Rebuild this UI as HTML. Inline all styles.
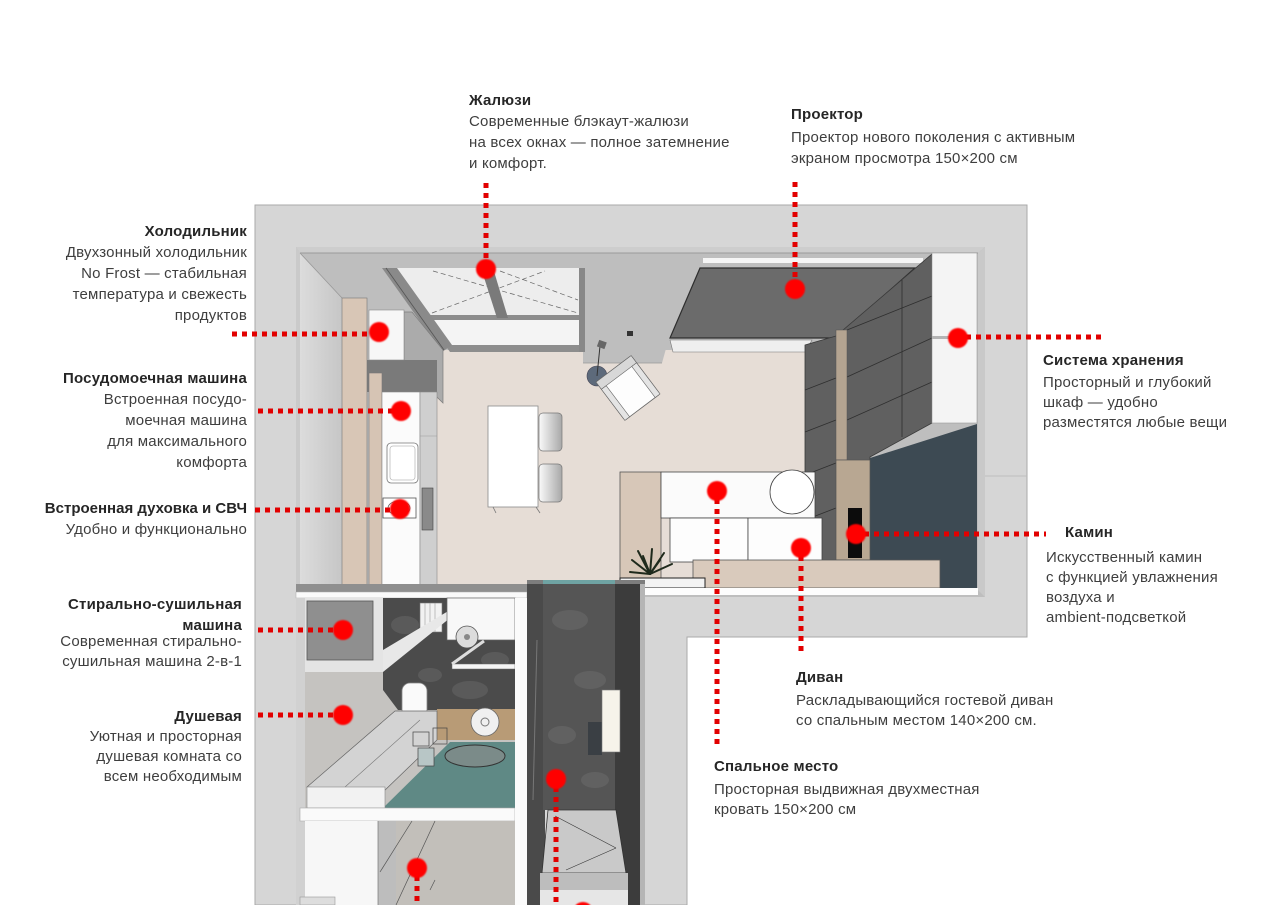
<!DOCTYPE html>
<html><head><meta charset="utf-8">
<style>
html,body{margin:0;padding:0;background:#fff;}
body{width:1280px;height:905px;position:relative;overflow:hidden;font-family:"Liberation Sans","DejaVu Sans",sans-serif;}
svg{position:absolute;left:0;top:0;}
.t{position:absolute;font-size:15px;line-height:21px;color:#3e3e3e;letter-spacing:0.2px;white-space:nowrap;}
.t b{color:#262626;}
.r{text-align:right;}
</style></head><body>
<svg width="1280" height="905" viewBox="0 0 1280 905" xmlns="http://www.w3.org/2000/svg">
<defs>
<linearGradient id="lw" x1="0" x2="1" y1="0" y2="0"><stop offset="0" stop-color="#dcdcdc"/><stop offset="1" stop-color="#c6c6c6"/></linearGradient>
<linearGradient id="ch" x1="0" x2="1" y1="0" y2="0"><stop offset="0" stop-color="#fafafa"/><stop offset="1" stop-color="#a8a8a8"/></linearGradient>
<filter id="bl" x="-50%" y="-50%" width="200%" height="200%"><feGaussianBlur stdDeviation="0.9"/></filter>
</defs>

<!-- outer wall -->
<polygon points="255,205 1027,205 1027,637 687,637 687,905 255,905" fill="#d6d6d6" stroke="#a9a9a9" stroke-width="1"/>
<line x1="985" y1="476" x2="1027" y2="476" stroke="#bdbdbd"/>

<!-- top room base (wall faces) -->
<rect x="296" y="247" width="689" height="350" fill="#bebebe"/>
<polygon points="296,247 985,247 978,253 300,253" fill="#cdcdcd"/>
<line x1="300" y1="253" x2="978" y2="253" stroke="#9a9a9a" stroke-width="1"/>
<polygon points="978,253 985,247 985,597 978,590" fill="#c9c9c9"/>
<polygon points="296,247 300,253 300,590 296,597" fill="#cacaca"/>
<polygon points="300,253 342,298 342,590 300,590" fill="url(#lw)"/>
<line x1="300" y1="253" x2="342" y2="298" stroke="#999" stroke-width="0.8"/>

<!-- floor -->
<rect x="437" y="350" width="370" height="238" fill="#e6ddd6"/>
<polygon points="583,345 667,345 662,363 583,363" fill="#bebebe"/>
<line x1="583" y1="363" x2="662" y2="363" stroke="#999" stroke-width="0.8"/>

<!-- window -->
<polygon points="393,268 583,268 583,318 428,318" fill="#ededed"/>
<line x1="433" y1="271" x2="578" y2="313" stroke="#666" stroke-width="0.7" stroke-dasharray="5 3"/>
<line x1="432" y1="313" x2="545" y2="271" stroke="#666" stroke-width="0.7" stroke-dasharray="5 3"/>
<line x1="500" y1="271" x2="578" y2="300" stroke="#666" stroke-width="0.7" stroke-dasharray="5 3"/>
<polygon points="428,318 583,318 583,345 445,345" fill="#f4f4f4"/>
<rect x="428" y="315" width="155" height="5" fill="#8c8c8c"/>
<polygon points="445,345 585,345 585,352 450,352" fill="#8d8d8d"/>
<polygon points="382,268 397,268 452,345 442,352" fill="#8a8a8a"/>
<line x1="386" y1="268" x2="444" y2="350" stroke="#555" stroke-width="0.8"/>
<polygon points="481,268 493,268 508,318 497,318" fill="#7a7a7a"/>
<rect x="579" y="268" width="6" height="84" fill="#888"/>

<!-- upper kitchen cabinet -->
<polygon points="404,312 412,312 443,350 443,403 404,365" fill="#ababab" stroke="#7d7d7d" stroke-width="0.7"/>

<!-- projector screen -->
<rect x="703" y="258" width="220" height="5" fill="#f5f5f5"/>
<polygon points="700,268 915,268 836,338 670,338" fill="#6b6b6b" stroke="#2e2e2e" stroke-width="1.2"/>
<polygon points="670,340 812,340 805,352 673,352" fill="#efefef" stroke="#777" stroke-width="0.6"/>

<!-- gray wardrobe panels -->
<polygon points="805,345 836,336 932,254 932,423 870,457 870,580 805,580" fill="#606060" stroke="#3a3a3a" stroke-width="0.8"/>
<g stroke="#2f2f2f" stroke-width="0.8">
<line x1="847" y1="330" x2="932" y2="296"/>
<line x1="847" y1="377" x2="932" y2="338"/>
<line x1="847" y1="420" x2="932" y2="382"/>
<line x1="902" y1="280" x2="902" y2="437"/>
<line x1="805" y1="390" x2="836" y2="378"/>
<line x1="805" y1="432" x2="836" y2="420"/>
<line x1="805" y1="475" x2="836" y2="463"/>
<line x1="805" y1="520" x2="836" y2="508"/>
</g>
<rect x="836" y="330" width="11" height="130" fill="#b4a491" stroke="#555" stroke-width="0.5"/>
<rect x="932" y="253" width="45" height="170" fill="#f4f4f4" stroke="#999" stroke-width="0.6"/>
<rect x="932" y="336" width="26" height="3" fill="#b4b4b4"/>
<polygon points="870,458 977,424 977,590 870,590" fill="#3d4a53"/>
<rect x="836" y="460" width="34" height="100" fill="#b8a792" stroke="#555" stroke-width="0.7"/>
<rect x="848" y="508" width="14" height="50" fill="#0c0c0c"/>

<!-- kitchen -->
<rect x="367" y="360" width="70" height="32" fill="#7a7a7a"/>
<rect x="369" y="310" width="35" height="50" fill="#f7f7f7" stroke="#888" stroke-width="0.6"/>
<rect x="342" y="298" width="25" height="290" fill="#d8c6b6" stroke="#777" stroke-width="0.6"/>
<rect x="369" y="373" width="13" height="215" fill="#d6c4b4" stroke="#777" stroke-width="0.6"/>
<rect x="382" y="392" width="38" height="194" fill="#fbfbfb" stroke="#888" stroke-width="0.6"/>
<rect x="420" y="392" width="17" height="194" fill="#cfcfcf" stroke="#888" stroke-width="0.6"/>
<line x1="420" y1="436" x2="437" y2="436" stroke="#999" stroke-width="0.6"/>
<rect x="422" y="488" width="11" height="42" fill="#8a8a8a" stroke="#444" stroke-width="0.6"/>
<rect x="387" y="443" width="31" height="40" rx="4" fill="#fff" stroke="#777" stroke-width="0.8"/>
<rect x="390" y="446" width="25" height="34" rx="3" fill="none" stroke="#bbb" stroke-width="0.8"/>
<rect x="383" y="498" width="33" height="20" fill="#fff" stroke="#555" stroke-width="0.8"/>
<ellipse cx="399" cy="508" rx="11" ry="7" fill="none" stroke="#555" stroke-width="0.8"/>

<!-- dining -->
<rect x="488" y="406" width="50" height="101" fill="#fff" stroke="#8a8a8a" stroke-width="0.8"/>
<rect x="539" y="413" width="23" height="38" rx="4" fill="url(#ch)" stroke="#777" stroke-width="0.7"/>
<rect x="539" y="464" width="23" height="38" rx="4" fill="url(#ch)" stroke="#777" stroke-width="0.7"/>
<g stroke="#777" stroke-width="0.8"><line x1="493" y1="507" x2="496" y2="513"/><line x1="536" y1="507" x2="540" y2="513"/></g>

<!-- armchair and lamp -->
<circle cx="597" cy="376" r="10" fill="#5d6a7b" stroke="#445" stroke-width="0.6"/>
<line x1="597" y1="376" x2="600" y2="346" stroke="#333" stroke-width="1"/>
<rect x="598" y="341" width="8" height="7" fill="#666" transform="rotate(20 602 344)"/>
<rect x="627" y="331" width="6" height="5" fill="#333"/>
<g transform="translate(628,388) rotate(-37)">
<rect x="-22" y="-24" width="44" height="48" rx="2" fill="#fdfdfd" stroke="#666" stroke-width="0.8"/>
<rect x="-22" y="-24" width="44" height="9" fill="#d8d8d8" stroke="#666" stroke-width="0.6"/>
<rect x="-22" y="-15" width="6" height="39" fill="#e4e4e4" stroke="#666" stroke-width="0.6"/>
<rect x="16" y="-15" width="6" height="39" fill="#e4e4e4" stroke="#666" stroke-width="0.6"/>
</g>

<!-- sofa area -->
<rect x="620" y="472" width="41" height="108" fill="#d7c7b8" stroke="#555" stroke-width="0.8"/>
<rect x="661" y="472" width="154" height="46" fill="#fbfbfb" stroke="#444" stroke-width="0.8"/>
<circle cx="792" cy="492" r="22" fill="#fff" stroke="#444" stroke-width="0.8"/>
<rect x="670" y="518" width="78" height="44" fill="#fdfdfd" stroke="#444" stroke-width="0.8"/>
<rect x="748" y="518" width="74" height="44" fill="#fdfdfd" stroke="#444" stroke-width="0.8"/>
<rect x="693" y="560" width="247" height="28" fill="#d9cabc" stroke="#555" stroke-width="0.8"/>
<rect x="620" y="578" width="85" height="10" fill="#f3f3f3" stroke="#222" stroke-width="1"/>
<g stroke="#1f2a1c" stroke-width="2" stroke-linecap="round">
<line x1="650" y1="574" x2="632" y2="560"/><line x1="650" y1="574" x2="638" y2="551"/>
<line x1="650" y1="574" x2="652" y2="549"/><line x1="650" y1="574" x2="664" y2="553"/>
<line x1="650" y1="574" x2="672" y2="564"/><line x1="650" y1="574" x2="630" y2="572"/>
<line x1="650" y1="574" x2="643" y2="556"/><line x1="650" y1="574" x2="660" y2="560"/>
</g>

<!-- bottom edges of top room -->
<rect x="645" y="588" width="333" height="7" fill="#fdfdfd"/>
<rect x="296" y="584" width="231" height="8" fill="#8f8f8f"/>
<rect x="296" y="592" width="231" height="6" fill="#fafafa" stroke="#aaa" stroke-width="0.5"/>

<!-- bathroom -->
<rect x="296" y="598" width="219" height="212" fill="#c5c3c0"/>
<rect x="296" y="598" width="9" height="307" fill="#d1d1d1"/>
<polygon points="305,598 383,598 383,672 372,672 305,672" fill="#e4e4e4"/>
<rect x="307" y="601" width="66" height="59" fill="#8f8f8f" stroke="#555" stroke-width="0.8"/>
<polygon points="383,598 515,598 515,740 437,740 437,710 398,710 383,690" fill="#4b4b4b"/>
<g fill="#6a6a6a" opacity="0.5">
<ellipse cx="405" cy="625" rx="14" ry="9"/><ellipse cx="470" cy="690" rx="18" ry="9"/>
<ellipse cx="430" cy="675" rx="12" ry="7"/><ellipse cx="495" cy="660" rx="14" ry="8"/>
</g>
<rect x="420" y="603" width="22" height="29" fill="#f2f2f2" stroke="#777" stroke-width="0.6"/>
<g stroke="#999" stroke-width="0.6"><line x1="425" y1="603" x2="425" y2="632"/><line x1="430" y1="603" x2="430" y2="632"/><line x1="435" y1="603" x2="435" y2="632"/></g>
<polygon points="383,650 450,610 450,618 383,672" fill="#e8e8e8"/>
<rect x="447" y="598" width="68" height="42" fill="#f8f8f8" stroke="#666" stroke-width="0.7"/>
<rect x="452" y="664" width="63" height="5" fill="#f5f5f5" stroke="#666" stroke-width="0.5"/>
<line x1="452" y1="664" x2="484" y2="641" stroke="#ddd" stroke-width="3"/>
<circle cx="467" cy="637" r="11" fill="#dcdcdc" stroke="#555" stroke-width="0.8"/>
<circle cx="467" cy="637" r="3" fill="#888"/>
<rect x="402" y="683" width="25" height="35" rx="8" fill="#fafafa" stroke="#888" stroke-width="0.8"/>
<rect x="437" y="709" width="78" height="31" fill="#b89b76"/>
<circle cx="485" cy="722" r="14" fill="#f0f0f0" stroke="#666" stroke-width="0.8"/>
<circle cx="485" cy="722" r="4" fill="none" stroke="#777"/>
<polygon points="383,808 450,742 515,742 515,810 383,810" fill="#5f8985"/>
<ellipse cx="475" cy="756" rx="30" ry="11" fill="#7b8b89" stroke="#333" stroke-width="1"/>
<polygon points="307,787 395,711 437,711 437,740 383,792" fill="#d3d3d3" stroke="#666" stroke-width="0.7"/>
<line x1="345" y1="787" x2="420" y2="720" stroke="#777" stroke-width="0.6"/>
<rect x="307" y="787" width="78" height="21" fill="#f2f2f2" stroke="#888" stroke-width="0.6"/>
<rect x="413" y="732" width="16" height="14" fill="none" stroke="#444" stroke-width="0.7"/>
<rect x="418" y="748" width="16" height="18" fill="#b8c6c6" stroke="#444" stroke-width="0.7"/>
<rect x="433" y="728" width="14" height="16" fill="none" stroke="#444" stroke-width="0.7"/>
<rect x="300" y="808" width="215" height="13" fill="#fafafa" stroke="#aaa" stroke-width="0.6"/>

<!-- room below bathroom -->
<rect x="305" y="821" width="73" height="84" fill="#f7f7f7"/>
<rect x="378" y="821" width="18" height="84" fill="#bdbdbd"/>
<rect x="396" y="821" width="119" height="84" fill="#c2bfba"/>
<line x1="378" y1="821" x2="378" y2="905" stroke="#777" stroke-width="0.7"/>
<line x1="380" y1="872" x2="412" y2="821" stroke="#555" stroke-width="0.7"/>
<line x1="396" y1="905" x2="435" y2="821" stroke="#555" stroke-width="0.7"/>
<line x1="430" y1="890" x2="435" y2="880" stroke="#555" stroke-width="0.7"/>
<rect x="300" y="897" width="35" height="8" fill="#ddd" stroke="#999" stroke-width="0.6"/>

<!-- corridor -->
<rect x="515" y="598" width="12" height="307" fill="#fbfbfb"/>
<rect x="527" y="580" width="118" height="18" fill="#7d7d7d"/>
<rect x="543" y="580" width="72" height="4" fill="#6fa3a3"/>
<rect x="527" y="584" width="18" height="321" fill="#4a4a4a"/>
<rect x="543" y="584" width="72" height="226" fill="#555"/>
<g fill="#707070" opacity="0.45">
<ellipse cx="570" cy="620" rx="18" ry="10"/><ellipse cx="590" cy="680" rx="16" ry="9"/>
<ellipse cx="562" cy="735" rx="14" ry="9"/><ellipse cx="595" cy="780" rx="14" ry="8"/>
</g>
<line x1="537" y1="640" x2="533" y2="800" stroke="#777" stroke-width="1"/>
<rect x="615" y="584" width="25" height="321" fill="#3c3c3c"/>
<rect x="640" y="584" width="5" height="321" fill="#b5b5b5"/>
<rect x="588" y="722" width="14" height="33" fill="#3a3f44"/>
<rect x="602" y="690" width="18" height="62" fill="#f6f3ea" stroke="#777" stroke-width="0.6"/>
<polygon points="548,810 616,810 626,873 542,873" fill="#c9c9c9" stroke="#333" stroke-width="0.8"/>
<line x1="555" y1="816" x2="616" y2="848" stroke="#333" stroke-width="0.6"/>
<line x1="566" y1="870" x2="616" y2="848" stroke="#333" stroke-width="0.6"/>
<rect x="540" y="873" width="88" height="17" fill="#bdbdbd"/>
<rect x="540" y="890" width="88" height="15" fill="#e6e6e6"/>

<!-- red connectors -->
<g stroke="#e20000" stroke-width="5" stroke-dasharray="5 5" fill="none">
<line x1="486" y1="183" x2="486" y2="262"/>
<line x1="795" y1="182" x2="795" y2="283"/>
<line x1="232" y1="334" x2="372" y2="334"/>
<line x1="258" y1="411" x2="394" y2="411"/>
<line x1="255" y1="510" x2="392" y2="510"/>
<line x1="966" y1="337" x2="1106" y2="337"/>
<line x1="864" y1="534" x2="1046" y2="534"/>
<line x1="801" y1="556" x2="801" y2="656"/>
<line x1="717" y1="499" x2="717" y2="744"/>
<line x1="258" y1="630" x2="336" y2="630"/>
<line x1="258" y1="715" x2="336" y2="715"/>
<line x1="556" y1="787" x2="556" y2="905"/>
<line x1="417" y1="876" x2="417" y2="905"/>
</g>
<g fill="#ff0000" filter="url(#bl)">
<circle cx="486" cy="269" r="10"/>
<circle cx="795" cy="289" r="10"/>
<circle cx="379" cy="332" r="10"/>
<circle cx="401" cy="411" r="10"/>
<circle cx="400" cy="509" r="10"/>
<circle cx="958" cy="338" r="10"/>
<circle cx="856" cy="534" r="10"/>
<circle cx="801" cy="548" r="10"/>
<circle cx="717" cy="491" r="10"/>
<circle cx="343" cy="630" r="10"/>
<circle cx="343" cy="715" r="10"/>
<circle cx="556" cy="779" r="10"/>
<circle cx="417" cy="868" r="10"/>
<circle cx="583" cy="912" r="10"/>
</g>
</svg>

<div class="t" style="left:469px;top:90px"><b>Жалюзи</b><br>Современные блэкаут-жалюзи<br>на всех окнах — полное затемнение<br>и комфорт.</div>

<div class="t" style="left:791px;top:104px"><b>Проектор</b></div>
<div class="t" style="left:791px;top:127px">Проектор нового поколения с активным<br>экраном просмотра 150×200 см</div>

<div class="t r" style="right:1033px;top:221px"><b>Холодильник</b><br>Двухзонный холодильник<br>No Frost — стабильная<br>температура и свежесть<br>продуктов</div>

<div class="t r" style="right:1033px;top:368px"><b>Посудомоечная машина</b><br>Встроенная посудо-<br>моечная машина<br>для максимального<br>комфорта</div>

<div class="t r" style="right:1033px;top:498px"><b style="letter-spacing:0">Встроенная духовка и СВЧ</b><br>Удобно и функционально</div>

<div class="t r" style="right:1038px;top:594px"><b>Стирально-сушильная<br>машина</b></div>
<div class="t r" style="right:1038px;top:632px;line-height:20px">Современная стирально-<br>сушильная машина 2-в-1</div>

<div class="t r" style="right:1038px;top:706px"><b>Душевая</b></div>
<div class="t r" style="right:1038px;top:727px;line-height:20px">Уютная и просторная<br>душевая комната со<br>всем необходимым</div>

<div class="t" style="left:1043px;top:350px"><b>Система хранения</b></div>
<div class="t" style="left:1043px;top:373px;line-height:20px">Просторный и глубокий<br>шкаф — удобно<br>разместятся любые вещи</div>

<div class="t" style="left:1065px;top:522px"><b>Камин</b></div>
<div class="t" style="left:1046px;top:548px;line-height:20px">Искусственный камин<br>с функцией увлажнения<br>воздуха и<br>ambient-подсветкой</div>

<div class="t" style="left:796px;top:667px"><b>Диван</b></div>
<div class="t" style="left:796px;top:691px;line-height:20px">Раскладывающийся гостевой диван<br>со спальным местом 140×200 см.</div>

<div class="t" style="left:714px;top:756px"><b>Спальное место</b></div>
<div class="t" style="left:714px;top:780px;line-height:20px">Просторная выдвижная двухместная<br>кровать 150×200 см</div>

</body></html>
